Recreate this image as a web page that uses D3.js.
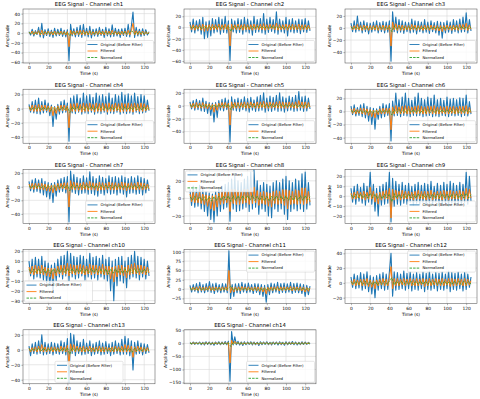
<!DOCTYPE html>
<html><head><meta charset="utf-8">
<script src="https://cdn.jsdelivr.net/npm/d3@7"></script>
<style>body{margin:0;background:#fff}svg{display:block}text{font-family:"DejaVu Sans",sans-serif;fill:#000}</style>
</head><body><svg id="c" width="480" height="399"></svg>
<script>
const channels = ["ch1","ch2","ch3","ch4","ch5","ch6","ch7","ch8","ch9","ch10","ch11","ch12","ch13","ch14"];
const timeTicks = [0,20,40,60,80,100,120];
const timeRange = [0,125];
const yTicks = [
 [40,20,0,-20,-40,-60],[20,0,-20,-40,-60],[20,0,-20,-40],
 [20,0,-20,-40],[20,0,-20,-40],[20,0,-20,-40],
 [20,0,-20,-40],[20,0,-20],[20,10,0,-10,-20],
 [20,10,0,-10,-20,-30],[100,75,50,25,0,-25],[40,20,0,-20],
 [20,0,-20,-40],[50,0,-50,-100,-150]];
const yDomains = [
 [-61.5,49.5],[-63.5,33],[-58,31.5],
 [-48.8,27.4],[-58,25.6],[-48.5,34],
 [-54,25.5],[-28.5,33],[-27.4,27],
 [-33,21.7],[-39,106],[-28,45],
 [-45.5,26.8],[-155,52]];
const legendLoc = ["lr","lr","lr","lr","lr","lr","lr","ul","lr","ll","ur","ur","lc","lr"];
const seriesNames = ["Original (Before Filter)","Filtered","Normalized"];

const original = [
 [3,-4,8,-6,5,-3,12,-8,20,-10,7,-5,9,-7,6,-9,10,-6,8,-5,10,-7,6,-8,7,-57,18,-6,9,-8,12,-7,16,-9,18,-6,10,-8,14,-10,8,-6,9,-7,12,-5,8,-9,12,-6,9,-8,17,-7,10,-6,8,-9,9,-5,10,-7,18,-8,15,43,-9,12,-6,8,-7,9,-5,7,-4,3],
 [10,-8,15,-10,12,-6,14,-12,18,-20,10,-18,12,-15,16,-10,14,-8,18,-12,15,-9,20,-10,12,-59,15,-8,12,-10,16,-9,14,-12,18,-8,15,-10,12,-14,20,-9,14,-8,16,-10,25,-12,15,-9,18,-7,14,-10,28,-12,15,-8,12,-10,18,-15,14,-8,16,-10,12,-9,15,-11,14,-8,16,-9,12,-6],
 [8,-6,12,-7,20,-5,10,-8,12,-6,9,-10,8,-7,10,-5,12,-8,9,-6,11,-8,10,-7,12,-55,27,-6,18,-8,14,-7,12,-9,10,-6,9,-8,15,-7,12,-10,11,-6,10,-8,14,-7,10,-9,12,-6,9,-8,11,-12,10,-17,9,-8,12,-7,10,-9,14,-6,12,-8,15,-7,18,-6,25,-8,14,-5],
 [6,-5,10,-6,12,-7,15,-8,10,-6,12,-5,8,-10,5,-25,3,-15,6,-8,10,-6,12,-5,8,-46,15,-6,18,-7,20,-5,15,-8,22,-6,18,-7,20,-5,16,-8,22,-6,18,-7,20,-5,17,-8,22,-6,15,-7,20,-5,18,-8,23,-6,19,-7,21,-6,18,-8,22,-5,17,-7,20,-6,18,-5,12,-3],
 [6,-5,8,-7,10,-6,8,-8,12,-9,7,-12,5,-15,4,-25,5,-18,8,-7,10,-8,12,-6,9,-56,14,-7,10,-8,12,-9,10,-6,14,-8,11,-10,13,-7,9,-9,14,-8,16,-7,20,-10,12,-8,15,-9,13,-7,16,-9,20,-8,14,-10,12,-8,15,-7,13,-9,16,-8,22,-7,14,-9,15,-8,12,-5],
 [8,-5,10,-7,6,-6,10,-8,12,-10,8,-15,6,-20,5,-27,4,-12,8,-10,12,-8,10,-6,12,-45,16,-7,28,-6,18,-8,22,-6,28,-7,20,-8,17,-6,22,-7,28,-6,20,-8,18,-7,22,-6,20,-8,25,-7,18,-8,20,-6,17,-7,22,-8,19,-6,20,-7,18,-6,21,-8,20,-6,25,-7,15,-4],
 [8,-6,10,-8,12,-7,10,-9,12,-12,8,-15,6,-18,5,-23,6,-14,10,-8,12,-7,14,-9,15,-52,23,-8,18,-10,14,-12,12,-10,16,-9,13,-11,22,-10,15,-12,12,-14,16,-10,14,-12,12,-9,16,-11,14,-10,15,-12,13,-9,16,-11,14,-15,12,-10,15,-9,13,-11,16,-10,14,-12,12,-9,10,-6],
 [10,-8,14,-10,12,-9,15,-12,10,-15,8,-20,6,-24,5,-27,8,-20,12,-15,14,-12,16,-10,18,-26,22,-12,25,-15,20,-14,18,-12,22,-10,25,-15,30,-12,33,-10,20,-18,15,-12,18,-15,16,-20,14,-22,18,-12,20,-15,18,-12,22,-18,25,-24,20,-15,18,-12,22,-14,20,-12,28,-15,30,-12,18,-8],
 [8,-6,10,-8,12,-5,9,-7,13,-9,10,-6,24,-8,12,-15,8,-20,10,-9,12,-8,14,-7,24,-26,18,-10,15,-8,12,-9,14,-7,11,-8,13,-6,10,-9,12,-7,14,-8,11,-6,13,-9,12,-7,15,-8,10,-6,13,-8,11,-9,14,-7,12,-10,15,-7,13,-8,11,-7,14,-9,12,-6,24,-8,20,-5],
 [10,-5,12,-8,14,-6,12,-7,15,-9,10,-12,8,-15,6,-20,8,-10,12,-6,15,-8,16,-5,20,-10,18,-6,15,-8,14,-7,16,-5,15,-9,12,-6,18,-8,14,-7,15,-9,13,-6,16,-8,12,-10,14,-20,10,-30,12,-15,14,-10,15,-12,10,-17,14,-8,16,-6,20,-7,15,-9,14,-6,12,-8,10,-5],
 [10,-8,12,-6,15,-10,18,-8,12,-10,15,-7,20,-9,14,-12,16,-8,12,-10,15,-8,14,-10,103,-25,12,-20,14,-10,15,-12,18,-8,14,-10,16,-8,12,-12,15,-9,14,-15,12,-20,10,-35,12,-15,16,-10,14,-8,18,-12,15,-9,16,-10,14,-8,18,-12,15,-9,16,-10,14,-12,12,-20,10,-15,8],
 [8,-6,12,-8,10,-7,14,-10,12,-8,15,-12,10,-15,8,-20,10,-10,12,-8,14,-10,12,-9,15,40,-18,15,-10,14,-9,12,-8,16,-10,13,-8,15,-11,12,-9,14,-10,12,-8,15,-12,13,-9,16,-10,12,-8,14,-11,13,-9,15,-10,12,-8,16,-12,14,-9,13,-10,15,-8,12,-11,14,-9,12,-6,8],
 [5,-8,8,-5,10,-6,12,-5,20,-7,10,-6,8,-5,10,-7,9,-5,8,-6,12,-5,10,-7,15,-43,22,-5,20,-8,12,-5,10,-7,14,-6,9,-5,12,-8,8,-6,10,-5,12,-7,9,-6,11,-5,8,-8,10,-6,12,-5,9,-7,14,-6,18,-6,15,-8,12,-27,10,-6,12,-5,9,-7,8,-5,7,-4],
 [3,-3,5,-4,4,-3,5,-5,4,-6,6,-4,5,-5,4,-7,5,-4,6,-5,5,-4,7,-5,8,-145,45,-6,25,-5,8,-6,5,-8,6,-5,5,-4,6,-6,5,-5,4,-8,6,-5,5,-4,6,-5,4,-6,5,-4,5,-6,6,-5,4,-7,6,-5,5,-4,7,-5,5,-6,4,-5,6,-4,5,-4,4,-3]
];
const filtered = [
 [2,-2,4,-3,3,-2,5,-4,6,-4,3,-3,4,-3,3,-4,4,-3,3,-3,4,-3,3,-4,3,-28,6,-3,4,-4,5,-3,6,-4,6,-3,4,-4,5,-4,3,-3,4,-3,5,-3,4,-4,5,-3,4,-4,6,-3,4,-3,3,-4,4,-3,4,-3,6,-4,5,20,-4,5,-3,4,-3,4,-3,3,-2,2],
 [4,-4,5,-5,4,-3,5,-5,6,-7,4,-6,5,-5,6,-4,5,-4,6,-5,5,-4,6,-4,5,-33,6,-4,5,-4,6,-4,5,-5,6,-4,5,-4,5,-5,6,-4,5,-4,6,-4,7,-5,5,-4,6,-3,5,-4,8,-5,5,-4,5,-4,6,-5,5,-4,6,-4,5,-4,6,-5,5,-4,5,-4,4,-3],
 [3,-3,4,-3,6,-3,4,-4,5,-3,4,-4,4,-3,4,-3,5,-4,4,-3,5,-4,4,-3,5,-30,10,-3,7,-4,5,-4,5,-4,4,-3,4,-4,6,-3,5,-4,4,-3,4,-4,5,-3,4,-4,5,-3,4,-4,4,-5,4,-6,4,-4,5,-3,4,-4,5,-3,5,-4,6,-3,6,-3,8,-4,5,-2],
 [3,-3,5,-4,5,-4,6,-4,5,-3,5,-3,4,-5,3,-10,2,-7,4,-4,5,-3,5,-3,4,-27,7,-4,7,-4,8,-4,6,-5,8,-4,7,-4,8,-3,6,-5,8,-4,7,-4,8,-3,7,-5,8,-4,6,-4,8,-3,7,-5,8,-4,7,-4,8,-4,7,-5,8,-3,7,-4,8,-4,7,-3,5,-2],
 [3,-3,4,-4,5,-3,4,-4,5,-4,3,-5,3,-6,2,-10,3,-7,4,-3,5,-4,5,-3,4,-30,6,-4,5,-4,5,-4,5,-3,6,-4,5,-4,6,-3,4,-4,6,-4,6,-3,7,-4,5,-4,6,-4,5,-3,6,-4,7,-4,6,-4,5,-4,6,-3,5,-4,6,-4,8,-3,6,-4,6,-4,5,-2],
 [4,-3,5,-4,3,-3,5,-4,5,-5,4,-6,3,-8,2,-10,2,-5,4,-4,5,-4,5,-3,5,-28,7,-4,9,-3,7,-4,8,-3,9,-4,8,-4,7,-3,8,-4,9,-3,8,-4,7,-4,8,-3,8,-4,9,-4,7,-4,8,-3,7,-4,8,-4,7,-3,8,-4,7,-3,8,-4,8,-3,9,-4,6,-2],
 [4,-3,5,-4,5,-3,5,-4,5,-5,4,-6,3,-7,2,-9,3,-6,5,-4,5,-3,6,-4,6,-30,9,-4,7,-5,6,-5,5,-5,7,-4,6,-5,8,-5,6,-5,5,-6,7,-5,6,-5,5,-4,7,-5,6,-5,6,-5,5,-4,7,-5,6,-6,5,-4,6,-4,5,-5,7,-4,6,-5,5,-4,4,-3],
 [5,-4,7,-5,6,-5,7,-6,5,-7,4,-9,3,-12,3,-14,4,-10,6,-7,7,-6,8,-5,8,-15,10,-6,10,-7,9,-7,8,-6,10,-5,10,-7,12,-6,13,-5,9,-8,7,-6,8,-7,7,-9,6,-10,8,-6,9,-7,8,-6,10,-8,10,-12,9,-7,8,-6,10,-7,9,-6,12,-7,12,-6,8,-4],
 [3,-3,4,-3,5,-2,4,-3,5,-4,4,-3,9,-3,5,-6,3,-8,4,-4,5,-3,6,-3,8,-22,7,-4,6,-3,5,-4,6,-3,5,-3,5,-3,4,-4,5,-3,6,-3,5,-3,5,-4,5,-3,6,-4,4,-3,5,-3,5,-4,6,-3,5,-4,6,-3,5,-3,5,-3,6,-4,5,-3,8,-3,7,-2],
 [4,-3,5,-4,6,-3,5,-3,6,-4,4,-5,3,-6,3,-8,3,-5,5,-3,6,-4,6,-3,8,-5,7,-3,6,-4,6,-3,7,-3,6,-4,5,-3,7,-4,6,-3,6,-4,5,-3,7,-4,5,-4,5,-8,4,-11,5,-6,6,-4,6,-5,4,-7,6,-4,7,-3,8,-3,6,-4,6,-3,5,-4,4,-2],
 [4,-3,5,-3,6,-4,7,-4,5,-4,6,-3,8,-4,6,-5,6,-3,5,-4,6,-3,6,-4,50,-10,5,-8,6,-4,6,-5,7,-3,6,-4,6,-3,5,-5,6,-4,6,-6,5,-8,4,-13,5,-6,6,-4,6,-3,7,-5,6,-4,6,-4,6,-3,7,-5,6,-4,6,-4,6,-5,5,-8,4,-6,3],
 [3,-3,5,-4,4,-3,5,-4,5,-4,6,-5,4,-6,3,-8,4,-4,5,-3,6,-4,5,-4,6,22,-8,6,-4,6,-4,5,-3,6,-4,5,-3,6,-4,5,-4,6,-4,5,-3,6,-5,5,-4,6,-4,5,-3,6,-4,5,-4,6,-4,5,-3,6,-5,6,-4,5,-4,6,-3,5,-4,6,-4,5,-3,3],
 [2,-3,3,-2,4,-3,5,-2,7,-3,4,-3,3,-2,4,-3,4,-2,3,-3,5,-2,4,-3,6,-20,8,-2,7,-3,5,-2,4,-3,5,-3,4,-2,5,-3,3,-3,4,-2,5,-3,4,-3,4,-2,3,-3,4,-3,5,-2,4,-3,5,-3,7,-3,6,-3,5,-10,4,-3,5,-2,4,-3,3,-2,3,-2],
 [2,-2,3,-2,2,-2,3,-3,2,-3,3,-2,3,-3,2,-3,3,-2,3,-3,3,-2,3,-3,4,-75,12,-3,8,-2,4,-3,3,-4,3,-3,3,-2,3,-3,3,-3,2,-4,3,-3,3,-2,3,-3,2,-3,3,-2,3,-3,3,-3,2,-3,3,-3,3,-2,3,-3,3,-3,2,-3,3,-2,3,-2,2,-2]
];
const normalized = [
 [1.5,-1.8,2,-1.6,2.2,-2,2.5,-1.8,2,-2.1,1.8,-2,2.2,-1.9,2,-2.2,1.9,-6,3,-2,2.4,-2,2.6,-1.9,2.2,-2.1,2,-1.8,2.3,-2,2.1,-1.9,2.2,-2,2.4,-1.9,2,-2.1,2.2,-1.8,2.3,-2,2.5,4,-2,2.2,-1.9,2,-2,1.8,-1.5],
 [1.8,-2,2.2,-2.5,2,-2.8,2.4,-2.2,2,-2,2.3,-1.9,2.5,-2,2.2,-2.1,2,-7,2.6,-2,2.2,-2.3,2.1,-2,2.4,-2,2.2,-2.1,2.8,-2,2.3,-1.9,2.2,-2.4,3,-2.1,2.2,-2,2.3,-2.2,2.1,-2,2.4,-2,2.2,-2.1,2.3,-2,2.2,-1.9,1.6],
 [1.6,-1.8,2.4,-1.7,2,-2,1.9,-1.8,2.1,-2,2,-1.9,2.2,-1.8,2,-2,2.1,-6,3.2,-1.9,2.4,-2,2.2,-2.1,2,-1.9,2.3,-2,2.1,-2.2,2,-2.6,2.2,-1.9,2.1,-2,2.3,-1.9,2.2,-2,2.4,-1.8,2.2,-2,2.6,-1.9,3,-2,2.4,-1.8,1.5],
 [1.5,-1.7,2,-1.8,2.2,-1.9,2,-2,1.8,-3,1.6,-2.5,1.8,-2,2.2,-1.8,2,-5.5,2.6,-1.8,2.8,-1.9,2.6,-2,2.8,-1.8,2.6,-2,2.7,-1.9,2.6,-2,2.8,-1.8,2.7,-2,2.6,-1.9,2.8,-2,2.7,-1.9,2.6,-2,2.8,-1.8,2.7,-2,2.6,-1.8,1.6],
 [1.5,-1.8,2,-1.9,2.1,-2,1.9,-2.2,1.8,-3,1.7,-2.6,2,-1.9,2.2,-2,2.1,-6,2.5,-2,2.2,-1.9,2.3,-2,2.2,-2.1,2.4,-2,2.3,-2.1,2.5,-2,2.2,-2.1,2.4,-2,2.3,-1.9,2.2,-2,2.6,-1.9,2.4,-2,2.3,-2.1,2.2,-2,2.3,-1.9,1.6],
 [1.6,-1.7,2,-1.8,2.1,-2.2,1.8,-2.6,1.7,-3,1.6,-2.2,2,-1.9,2.1,-1.8,2.2,-5.5,2.8,-1.8,3,-1.9,2.8,-2,2.9,-1.8,2.8,-2,2.7,-1.9,2.8,-2,2.9,-1.8,2.7,-2,2.8,-1.9,2.7,-1.8,2.8,-2,2.7,-1.9,2.8,-2,2.9,-1.8,3,-1.9,1.7],
 [1.6,-1.8,2.1,-2,2,-2.2,1.9,-2.6,1.8,-2.9,1.7,-2.4,2.1,-2,2.2,-1.9,2.3,-6,3,-2.1,2.4,-2.2,2.3,-2,2.5,-2.2,2.3,-2.1,2.4,-2.3,2.2,-2.1,2.4,-2,2.3,-2.2,2.2,-2.1,2.4,-2,2.3,-2.2,2.2,-2.1,2.4,-2,2.3,-2.1,2.2,-2,1.6],
 [1.8,-2,2.2,-2.1,2,-2.4,1.9,-2.8,1.8,-3.2,2,-2.5,2.4,-2.2,2.6,-2,2.8,-3.5,3,-2.2,2.8,-2.3,3,-2.2,3.2,-2,3.4,-2.4,2.6,-2.2,2.5,-2.8,2.4,-3,2.6,-2.4,2.8,-2.2,2.7,-2.6,2.8,-2.4,2.6,-2.2,2.8,-2.3,3,-2.2,3.1,-2,1.8],
 [1.5,-1.6,1.9,-1.7,2,-1.8,1.9,-2,3,-1.8,2,-2.4,1.8,-2.6,2,-1.8,2.2,-5.5,2.6,-1.9,2.1,-1.8,2,-1.9,2.1,-1.8,2,-1.9,2.2,-1.8,2,-1.9,2.1,-1.8,2,-2,2.1,-1.8,2.2,-1.9,2,-1.8,2.1,-1.9,2,-1.8,2.2,-1.9,3,-1.8,1.5],
 [1.7,-1.6,2,-1.8,2.2,-2,1.9,-2.4,1.8,-2.8,2,-1.8,2.3,-1.9,2.4,-1.8,2.6,-2,2.5,-1.9,2.3,-1.8,2.4,-2,2.3,-1.9,2.5,-1.8,2.2,-2,2.1,-2.6,2,-3.2,2.1,-2.2,2.3,-2,2.2,-2.5,2.3,-1.9,2.4,-1.8,2.6,-2,2.3,-1.9,2.1,-1.8,1.5],
 [1.7,-1.6,2,-1.8,2.4,-1.9,2.2,-1.8,2.6,-2,2.3,-2,2.4,-1.9,2.2,-2,2.3,8,-2.8,2.1,-2.4,2.2,-2,2.3,-2.2,2.1,-2.6,2,-3.5,2.1,-2.4,2.3,-2,2.4,-1.9,2.2,-2,2.3,-1.9,2.4,-2.1,2.2,-2,2.3,-1.9,2.2,-2,2.1,-2.6,1.9,-1.6],
 [1.6,-1.8,2.1,-2,2.2,-1.9,2.3,-2.2,2,-2.4,1.9,-2.8,2.1,-2,2.2,-1.9,2.3,7,-2.6,2.2,-2,2.1,-1.9,2.3,-2,2.2,-2.1,2,-1.9,2.2,-2,2.3,-2.1,2.2,-1.9,2.1,-2,2.3,-1.9,2.2,-2,2.1,-2.2,2.3,-1.9,2.2,-2,2.1,-1.9,2,-1.6],
 [1.4,-1.6,1.8,-1.5,2.4,-1.7,2,-1.6,1.8,-1.7,2,-1.6,1.9,-1.8,2.1,-1.7,2.4,-6,3,-1.6,2.2,-1.8,2,-1.7,1.9,-1.6,2,-1.8,2.1,-1.7,1.9,-1.6,2,-1.8,2.2,-1.7,2.6,-1.8,2.3,-1.7,2.1,-1.6,2,-3.2,1.9,-1.7,2,-1.6,1.8,-1.5,1.3],
 [1.3,-1.4,1.6,-1.5,1.7,-1.6,1.5,-1.7,1.6,-1.5,1.8,-1.6,1.7,-1.5,1.8,-1.7,2,-12,4,-1.8,1.7,-1.6,1.8,-1.5,1.7,-1.8,1.6,-1.7,1.8,-1.6,1.7,-1.5,1.8,-1.6,1.7,-1.8,1.6,-1.5,1.7,-1.6,1.8,-1.7,1.6,-1.5,1.7,-1.6,1.8,-1.5,1.6,-1.4,1.3]
];

const colors = ["#1f77b4","#ff7f0e","#2ca02c"];
const strokeW = [1.1, 1.0, 0.8];
const svg = d3.select("#c");
const W = 132, H = 54;
const colX = [23, 184, 345];
const rowY = [9, 89.2, 169.4, 249.6, 329.8];
const fs = {title: 5.4, tick: 4.4, label: 4.4, legend: 3.8};

channels.forEach((ch, k) => {
  const c = k % 3, r = Math.floor(k / 3);
  const g = svg.append("g").attr("transform", `translate(${colX[c]},${rowY[r]})`);
  const x = d3.scaleLinear().domain([timeRange[0] - 6.25, timeRange[1] + 6.25]).range([0, W]);
  const y = d3.scaleLinear().domain(yDomains[k]).range([H, 0]);

  g.append("g").selectAll("line").data(timeTicks).join("line")
    .attr("x1", d => x(d)).attr("x2", d => x(d)).attr("y1", 0).attr("y2", H)
    .attr("stroke", "#d8d8d8").attr("stroke-width", 0.6);
  g.append("g").selectAll("line").data(yTicks[k]).join("line")
    .attr("y1", d => y(d)).attr("y2", d => y(d)).attr("x1", 0).attr("x2", W)
    .attr("stroke", "#d8d8d8").attr("stroke-width", 0.6);

  const clipId = "clip" + k;
  g.append("clipPath").attr("id", clipId).append("rect").attr("width", W).attr("height", H);
  const plot = g.append("g").attr("clip-path", `url(#${clipId})`);
  const mk = arr => d3.line()
    .x((d, i) => x(timeRange[0] + i * (timeRange[1] - timeRange[0]) / (arr.length - 1)))
    .y(d => y(d));
  [original[k], filtered[k], normalized[k]].forEach((arr, s) => {
    plot.append("path").attr("d", mk(arr)(arr)).attr("fill", "none")
      .attr("stroke", colors[s]).attr("stroke-width", strokeW[s])
      .attr("stroke-linejoin", "round")
      .attr("stroke-dasharray", s === 2 ? "2.5,1.1" : null);
  });

  g.append("rect").attr("width", W).attr("height", H).attr("fill", "none")
    .attr("stroke", "#444").attr("stroke-width", 0.5);

  const xa = g.append("g").attr("transform", `translate(0,${H})`)
    .call(d3.axisBottom(x).tickValues(timeTicks).tickSize(1.6).tickPadding(1.4).tickFormat(d3.format("d")));
  const ya = g.append("g")
    .call(d3.axisLeft(y).tickValues(yTicks[k]).tickSize(1.6).tickPadding(1.4).tickFormat(d => d < 0 ? "\u2212" + Math.abs(d) : d));
  [xa, ya].forEach(a => {
    a.select(".domain").remove();
    a.selectAll("line").attr("stroke", "#444").attr("stroke-width", 0.4);
    a.selectAll("text").attr("font-size", fs.tick).attr("font-family", "DejaVu Sans").attr("fill", "#000");
  });

  g.append("text").attr("x", W / 2).attr("y", -2.6).attr("text-anchor", "middle")
    .attr("font-size", fs.title).text(`EEG Signal - Channel ${ch}`);
  g.append("text").attr("x", W / 2).attr("y", H + 12.2).attr("text-anchor", "middle")
    .attr("font-size", fs.label).text("Time (s)");
  const yl = ya.node().getBBox();
  g.append("text").attr("transform", `translate(${yl.x - 2},${H / 2}) rotate(-90)`)
    .attr("text-anchor", "middle").attr("font-size", fs.label).text("Amplitude");

  const lw = 68, lh = 21, pad = 1.5;
  const loc = legendLoc[k];
  let lx = W - lw - pad, ly = H - lh - pad;
  if (loc[0] === "u") ly = pad;
  if (loc[1] === "l") lx = pad;
  if (loc[1] === "c") lx = (W - lw) / 2;
  const lg = g.append("g").attr("transform", `translate(${lx},${ly})`);
  lg.append("rect").attr("width", lw).attr("height", lh).attr("rx", 1.2)
    .attr("fill", "#fff").attr("fill-opacity", 0.8).attr("stroke", "#ccc").attr("stroke-width", 0.5);
  seriesNames.forEach((nm, s) => {
    const yy = 4 + s * 6.5;
    lg.append("line").attr("x1", 2).attr("x2", 12).attr("y1", yy).attr("y2", yy)
      .attr("stroke", colors[s]).attr("stroke-width", 0.9)
      .attr("stroke-dasharray", s === 2 ? "2.5,1.1" : null);
    lg.append("text").attr("x", 15).attr("y", yy + 1.35).attr("font-size", fs.legend).text(nm);
  });
});
</script></body></html>
